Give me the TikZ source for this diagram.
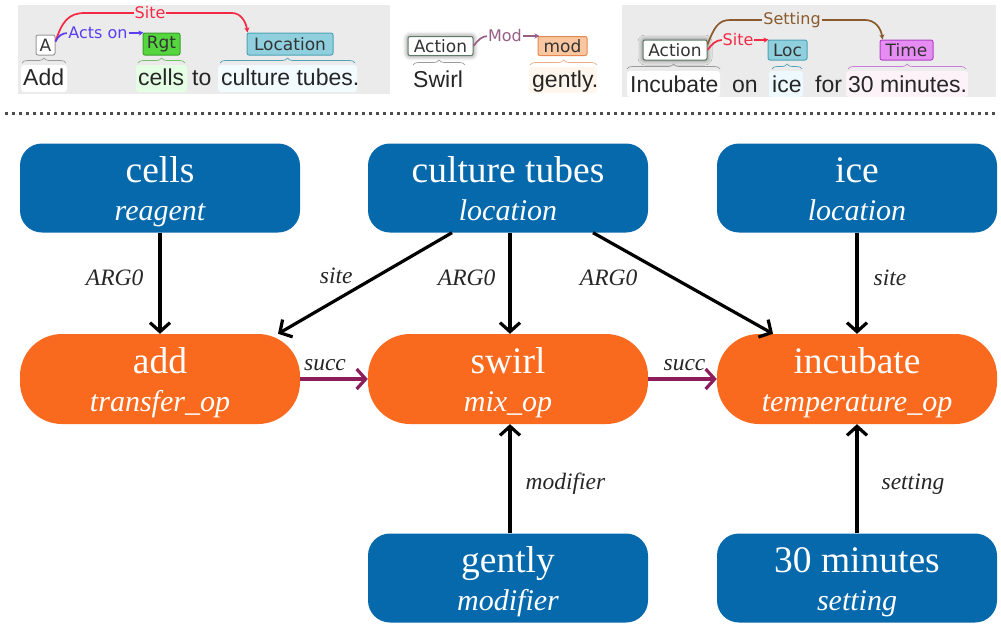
\documentclass[tikz,border=0pt]{standalone}
\usepackage{fontspec}
\setmainfont{Liberation Serif}
\newfontfamily\txtfont{Liberation Sans}
\newfontfamily\lblfont{DejaVu Sans}
\usetikzlibrary{arrows.meta,shadows.blur,decorations.pathreplacing,calc}
\definecolor{nblue}{HTML}{0569AC}
\definecolor{norange}{HTML}{FA6A1E}
\definecolor{succc}{HTML}{8C1C5A}
\definecolor{panelbg}{HTML}{EBEBEB}
\definecolor{sitec}{HTML}{F42A45}
\definecolor{actsc}{HTML}{5B3DF2}
\definecolor{modc}{HTML}{975F85}
\definecolor{setc}{HTML}{8A5A2C}
\definecolor{rgtfill}{HTML}{55D63F}
\definecolor{rgtdraw}{HTML}{3C9E2C}
\definecolor{locfill}{HTML}{8FCFDE}
\definecolor{locdraw}{HTML}{4EA3B6}
\definecolor{modfill}{HTML}{F9C6A0}
\definecolor{moddraw}{HTML}{E48850}
\definecolor{timefill}{HTML}{E68CF2}
\definecolor{timedraw}{HTML}{B044C6}
\definecolor{actdraw}{HTML}{5F7B68}
\newcommand{\twoline}[2]{\makebox[0pt]{\raisebox{6pt}[0pt][0pt]{\fontsize{37.5}{37.5}\selectfont #1}}\makebox[0pt]{\raisebox{-32pt}[0pt][0pt]{\fontsize{30}{30}\selectfont\itshape #2}}}
\tikzset{
 bnode/.style={fill=nblue, rounded corners=22pt, minimum width=280pt, minimum height=89pt, inner sep=0pt, text=white},
 onode/.style={fill=norange, rounded corners=42pt, minimum width=280pt, minimum height=90pt, inner sep=0pt, text=white},
 arr/.style={line width=3.2pt, -{Straight Barb[length=9pt,width=20pt]}},
 sarr/.style={arr, draw=succc},
 elab/.style={font=\fontsize{23.5}{23.5}\selectfont\itshape, inner sep=1pt, text=black!85},
 tag/.style={font=\lblfont\fontsize{17}{17}\selectfont, draw, rounded corners=2pt, inner sep=0pt, minimum height=20pt, line width=1pt, text=black!80},
 word/.style={font=\txtfont\fontsize{23}{23}\selectfont, anchor=base west, inner sep=0pt, text=black!85},
 brc/.style={decorate, decoration={brace, amplitude=5pt}, line width=0.7pt},
 rel/.style={line width=1.7pt, -{Stealth[length=5pt,width=5pt]}},
 rlab/.style={font=\lblfont\fontsize{16}{16}\selectfont, fill=panelbg, inner sep=1pt},
 shd/.style={blur shadow={shadow xshift=0pt, shadow yshift=0pt, shadow blur radius=5pt, shadow opacity=60}},
}
\begin{document}
\begin{tikzpicture}[x=1pt,y=-1pt]
\useasboundingbox (0,0) rectangle (1001,632);
% ---------- top panels ----------
\fill[panelbg] (18,5) rectangle (390,94);
\fill[panelbg] (622,5) rectangle (996,97);
% panel 1 highlights
\fill[white, rounded corners=3pt] (21,65) rectangle (67,92);
\fill[green!10!white, rounded corners=3pt] (136,65) rectangle (187,92);
\fill[cyan!5!white, rounded corners=3pt] (218,65) rectangle (357,92);
% panel 1 words
\node[word] (w1) at (23,85) {Add};
\node[word] (w2) at (138,85) {cells};
\node[word] (w3) at (192,85) {to};
\node[word] (w4) at (221,85) {culture tubes.};
% panel 1 tags
\node[tag, fill=white, draw=black!40, minimum width=19pt] (tA) at (45.5,45) {A};
\node[tag, fill=rgtfill, draw=rgtdraw, minimum width=37pt, minimum height=22pt] (tRgt) at (161.5,44) {Rgt};
\node[tag, fill=locfill, draw=locdraw, minimum width=86pt, minimum height=22pt] (tLoc) at (290,44) {Location};
% panel 1 braces
\draw[brc, black!40] (22,63) -- (66,63);
\draw[brc, rgtdraw!70] (138,63) -- (185,63);
\draw[brc, locdraw] (220,63) -- (355,63);
% panel 1 relations
\draw[rel, sitec] ([yshift=-7pt]tA.north east) .. controls (62,22) and (68,13) .. (85,13) -- (232,13) .. controls (241,13) and (246,22) .. ([xshift=1pt]tLoc.north west);
\node[rlab, text=sitec] (lSite1) at (150,13) {Site};
\draw[rel, actsc] ([yshift=-7pt]tA.north east) .. controls (58,36) and (62,33) .. (68,33) -- (134,33) .. controls (138,33) and (140,33) .. ([xshift=1pt]tRgt.north west);
\node[rlab, text=actsc] (lActs) at (98,33) {Acts on};
% panel 2
\fill[orange!7!white, rounded corners=3pt] (529,67) rectangle (597,93);
\node[word] (w5) at (413,87) {Swirl};
\node[word] (w6) at (532,87) {gently.};
\node[tag, fill=white, draw=actdraw, minimum width=65pt, minimum height=19pt, shd] (tAct2) at (440.5,46) {Action};
\node[tag, fill=modfill, draw=moddraw, minimum width=49pt, minimum height=19pt] (tMod) at (562.5,46) {mod};
\draw[brc, black!40] (413,65) -- (465,65);
\draw[brc, moddraw!70] (530,65) -- (597,65);
\draw[rel, modc] (tAct2.east) .. controls (478,40) and (482,36) .. (488,36) -- (528,36) .. controls (533,36) and (536,36) .. ([xshift=2pt]tMod.north west);
\node[rlab, fill=white, text=modc] (lMod) at (505,36) {Mod};
% panel 3
\fill[white, rounded corners=3pt] (627,71) rectangle (720,97);
\fill[cyan!7!white, rounded corners=3pt] (769,71) rectangle (803,97);
\fill[magenta!5!white, rounded corners=3pt] (846,71) rectangle (968,97);
\node[word] (w7) at (630,92) {Incubate};
\node[word] (w8) at (732,92) {on};
\node[word] (w9) at (772,92) {ice};
\node[word] (w10) at (815,92) {for};
\node[word] (w11) at (848,92) {30 minutes.};
\node[tag, fill=white, draw=actdraw, minimum width=64pt, shd] (tAct3) at (675,50) {Action};
\node[tag, fill=locfill, draw=locdraw, minimum width=39pt] (tLoc3) at (787.5,50) {Loc};
\node[tag, fill=timefill, draw=timedraw, minimum width=53pt] (tTime) at (906.5,50) {Time};
\draw[brc, black!40] (627,69) -- (720,69);
\draw[brc, locdraw] (772,69) -- (802,69);
\draw[brc, timedraw!70] (848,69) -- (966,69);
\draw[rel, setc] ([yshift=-5pt]tAct3.north east) .. controls (714,28) and (718,20) .. (730,20) -- (865,20) .. controls (875,20) and (881,28) .. ([xshift=3pt]tTime.north west);
\node[rlab, text=setc] (lSet) at (792,20) {Setting};
\draw[rel, sitec] (tAct3.east) .. controls (712,44) and (716,40) .. (722,40) -- (758,40) .. controls (762,40) and (765,40) .. ([xshift=1pt]tLoc3.north west);
\node[rlab, text=sitec] (lSite3) at (738,40) {Site};
% separator
\draw[black!70, line width=3pt, dash pattern=on 3pt off 4pt] (5,113) -- (998,113);
% ---------- graph ----------
\node[bnode] (cells) at (160,188) {\twoline{cells}{reagent}};
\node[bnode] (ct) at (508,188) {\twoline{culture tubes}{location}};
\node[bnode] (ice) at (857,188) {\twoline{ice}{location}};
\node[onode] (add) at (160,379) {\twoline{add}{transfer\_op}};
\node[onode] (swirl) at (508,379) {\twoline{swirl}{mix\_op}};
\node[onode] (incub) at (857,379) {\twoline{incubate}{temperature\_op}};
\node[bnode] (gently) at (508,578) {\twoline{gently}{modifier}};
\node[bnode] (mins) at (857,578) {\twoline{30 minutes}{setting}};
\draw[arr] (cells.south) -- node[elab, pos=0.45, left=14pt] {ARG0} (add.north);
\draw[arr] ([xshift=-56pt]ct.south) -- node[elab, pos=0.43, left=22pt] {site} ([xshift=118pt]add.north);
\draw[arr] ([xshift=2pt]ct.south) -- node[elab, pos=0.45, left=12pt] {ARG0} ([xshift=2pt]swirl.north);
\draw[arr] ([xshift=85pt]ct.south) -- node[elab, pos=0.45, left=34pt] {ARG0} ([xshift=-84pt]incub.north);
\draw[arr] (ice.south) -- node[elab, pos=0.45, right=14pt] {site} (incub.north);
\draw[sarr] (add.east) -- node[elab, above=6pt, xshift=-9pt] {succ} (swirl.west);
\draw[sarr] (swirl.east) -- node[elab, above=6pt, xshift=2pt] {succ} (incub.west);
\draw[arr] ([xshift=2pt]gently.north) -- node[elab, pos=0.45, right=13pt] {modifier} ([xshift=2pt]swirl.south);
\draw[arr] (mins.north) -- node[elab, pos=0.45, right=22pt] {setting} (incub.south);
\end{tikzpicture}
\end{document}
